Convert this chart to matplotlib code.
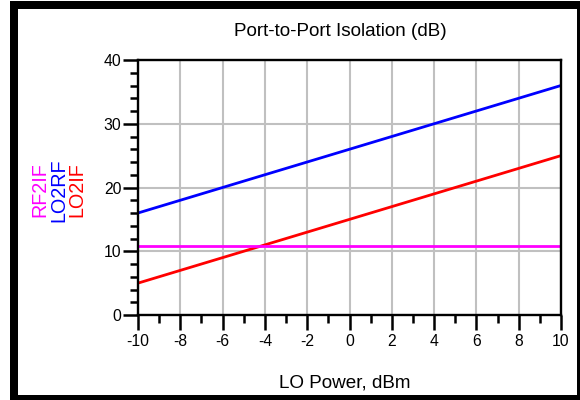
import matplotlib
matplotlib.use("Agg")
import matplotlib.pyplot as plt
from matplotlib.patches import Rectangle
from matplotlib.ticker import MultipleLocator

plt.rcParams['font.family'] = ['Liberation Sans', 'DejaVu Sans']
plt.rcParams['axes.unicode_minus'] = False

lo_power = [-10, -8, -6, -4, -2, 0, 2, 4, 6, 8, 10]
lo2rf = [16, 18, 20, 22, 24, 26, 28, 30, 32, 34, 36]
lo2if = [5, 7, 9, 11, 13, 15, 17, 19, 21, 23, 25]
rf2if = [10.9, 10.9, 10.9, 10.9, 10.9, 10.9, 10.9, 10.9, 10.9, 10.9, 10.9]

W, H = 580, 400
fig = plt.figure(figsize=(W / 100, H / 100), dpi=100)
ax = fig.add_axes([138 / W, (H - 315) / H, (561 - 138) / W, (315 - 60) / H])

ax.plot(lo_power, lo2rf, color='#0000FF', lw=2.0, zorder=3)
ax.plot(lo_power, lo2if, color='#FF0000', lw=2.0, zorder=3)
ax.plot(lo_power, rf2if, color='#FF00FF', lw=2.0, zorder=4)

ax.set_xlim(-10, 10)
ax.set_ylim(0, 40)
ax.xaxis.set_major_locator(MultipleLocator(2))
ax.xaxis.set_minor_locator(MultipleLocator(1))
ax.yaxis.set_major_locator(MultipleLocator(10))
ax.yaxis.set_minor_locator(MultipleLocator(2))
ax.grid(True, which='major', color='#C0C0C0', lw=1.5, zorder=1)
ax.set_axisbelow(True)

for s in ax.spines.values():
    s.set_linewidth(1.7)
    s.set_color('black')
    s.set_zorder(5)

ax.tick_params(axis='both', which='major', direction='out', length=11, width=1.8,
               labelsize=11.3, colors='black')
ax.tick_params(axis='y', which='major', pad=1)
ax.tick_params(axis='x', which='major', pad=3)
ax.tick_params(axis='both', which='minor', direction='out', length=6, width=1.8)

fig.text(340 / W, (H - 36.5) / H, 'Port-to-Port Isolation (dB)', ha='center',
         va='baseline', fontsize=13.6)
fig.text(344.5 / W, (H - 387) / H, 'LO Power, dBm', ha='center', va='baseline',
         fontsize=13.6)

fig.text(39.5 / W, (H - 190) / H, 'RF2IF', color='#FF00FF', rotation=90,
         ha='center', va='center', fontsize=14.2)
fig.text(59 / W, (H - 190) / H, 'LO2RF', color='#0000FF', rotation=90,
         ha='center', va='center', fontsize=14.2)
fig.text(77 / W, (H - 190) / H, 'LO2IF', color='#FF0000', rotation=90,
         ha='center', va='center', fontsize=14.2)

# outer black frame
fig.patches.append(Rectangle((14 / W, (H - 399) / H), (581 - 14) / W, (399 - 5) / H,
                             transform=fig.transFigure, fill=False,
                             edgecolor='black', lw=8 * 0.72, clip_on=False))

fig.savefig('out.png', dpi=100)
